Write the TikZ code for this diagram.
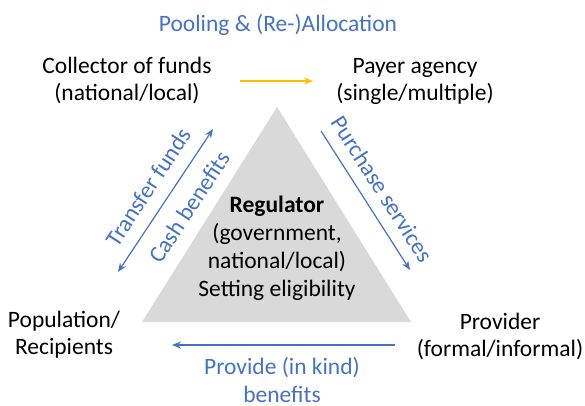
\documentclass[tikz,border=0pt]{standalone}
\usepackage{fontspec}
\setmainfont{Carlito}
\usetikzlibrary{arrows.meta}
\definecolor{flowblue}{HTML}{4472C4}
\definecolor{poolgold}{HTML}{FFC000}
\definecolor{regugray}{HTML}{D9D9D9}
\begin{document}
\begin{tikzpicture}[x=1pt,y=-1pt]
\tikzset{actor/.style={align=center, font=\fontsize{23.5}{27}\selectfont, inner sep=0pt},
  flowtext/.style={flowblue, align=center, font=\fontsize{23.5}{28}\selectfont, inner sep=0pt},
  flowline/.style={flowblue, line width=1.2pt, -{Stealth[length=9pt,width=7pt]}}}
\useasboundingbox (0,0) rectangle (585,406);
% regulator in the middle
\fill[regugray] (277,107) -- (411,322) -- (142,322) -- cycle;
\node[actor, font=\fontsize{23.5}{28}\selectfont] (Regulator) at (277,248) {\textbf{Regulator}\\(government,\\national/local)\\Setting eligibility};
% the four actors
\node[actor] (Collector) at (127,80) {Collector of funds\\(national/local)};
\node[actor] (Payer) at (415,81) {Payer agency\\(single/multiple)};
\node[actor] (Population) at (64,335) {Population/\\Recipients};
\node[actor] (Provider) at (500,336) {Provider\\(formal/informal)};
% flows
\node[flowtext] (Pooling) at (278,25) {Pooling \& (Re-)Allocation};
\coordinate (PoolA) at (240,81);
\coordinate (PoolB) at (313,81);
\draw[line width=1.4pt, poolgold, -{Stealth[length=9pt,width=7pt]}] (PoolA) -- (PoolB);
\coordinate (CashA) at (118,272);
\coordinate (CashB) at (213,129);
\draw[flowline, {Stealth[length=9pt,width=7pt]}-{Stealth[length=9pt,width=7pt]}] (CashA) -- (CashB);
\node[flowtext, rotate=56.7] (Transfer) at (148,187) {Transfer funds};
\node[flowtext, rotate=56.7] (Cash) at (189,207) {Cash benefits};
\coordinate (BuyA) at (321,131);
\coordinate (BuyB) at (410,270);
\draw[flowline] (BuyA) -- (BuyB);
\node[flowtext, rotate=-57.4] (Purchase) at (382,189) {Purchase services};
\coordinate (KindA) at (395,345);
\coordinate (KindB) at (172,345);
\draw[flowline] (KindA) -- (KindB);
\node[flowtext] (Kind) at (282,380) {Provide (in kind)\\benefits};
\end{tikzpicture}
\end{document}
